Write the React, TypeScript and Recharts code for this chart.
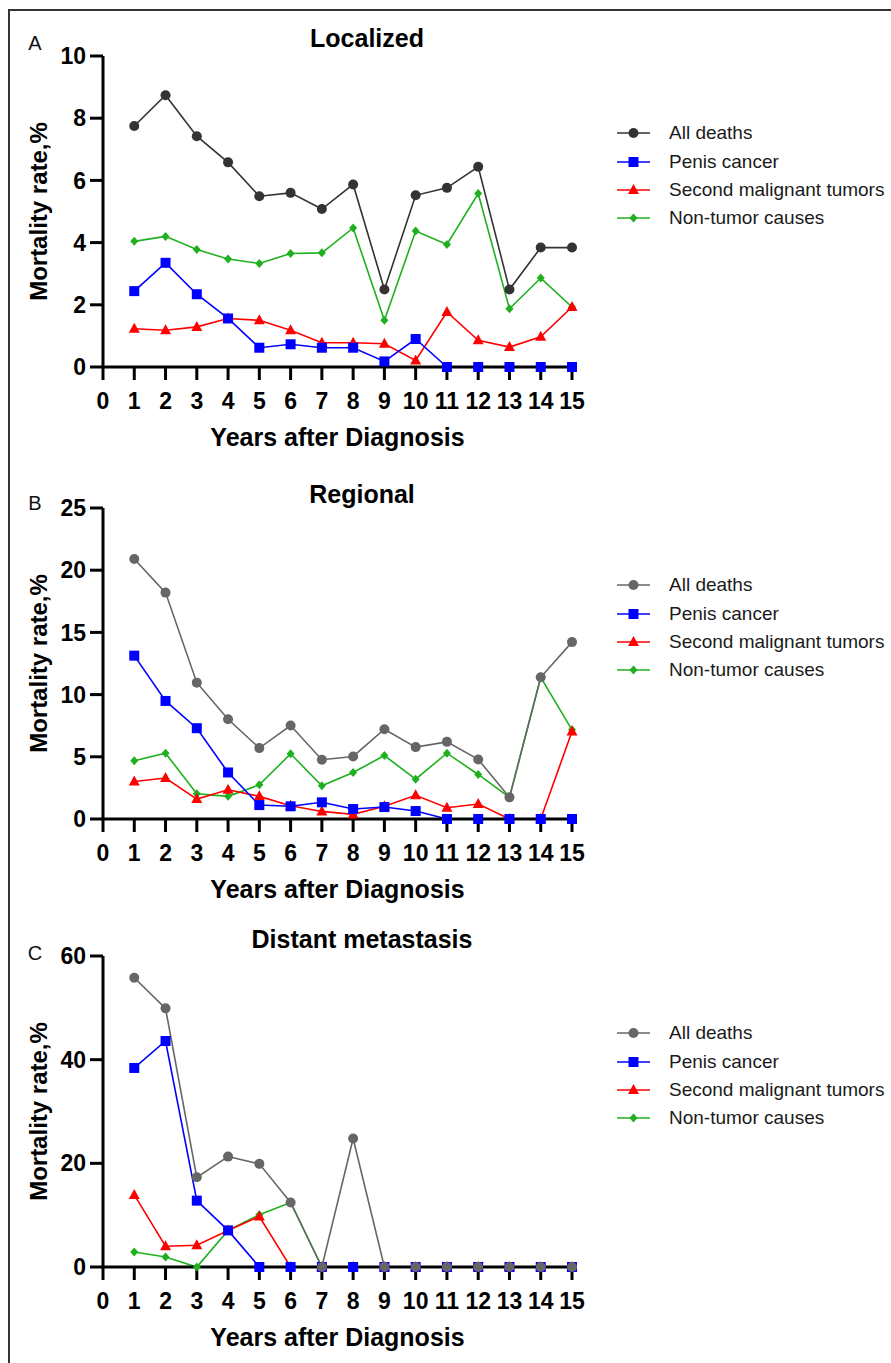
import React from 'react';
import { LineChart, Line, XAxis, YAxis, Legend, Label } from 'recharts';

// years after diagnosis (x) and axis ticks
const years = [1, 2, 3, 4, 5, 6, 7, 8, 9, 10, 11, 12, 13, 14, 15];
const xTicks = [0, 1, 2, 3, 4, 5, 6, 7, 8, 9, 10, 11, 12, 13, 14, 15];

// A - Localized
const localAll = [7.75, 8.74, 7.42, 6.58, 5.49, 5.6, 5.08, 5.87, 2.49, 5.52, 5.76, 6.44, 2.49, 3.84, 3.84];
const localPenis = [2.44, 3.35, 2.34, 1.56, 0.62, 0.73, 0.62, 0.62, 0.18, 0.9, 0, 0, 0, 0, 0];
const localSecond = [1.23, 1.18, 1.29, 1.56, 1.5, 1.18, 0.78, 0.78, 0.75, 0.21, 1.77, 0.86, 0.64, 0.97, 1.93];
const localNonTumor = [4.04, 4.2, 3.78, 3.47, 3.33, 3.65, 3.67, 4.47, 1.5, 4.37, 3.94, 5.58, 1.87, 2.86, 1.93];
const localTicks = [0, 2, 4, 6, 8, 10];

// B - Regional
const regionalAll = [20.9, 18.2, 10.96, 8.02, 5.7, 7.51, 4.76, 5.03, 7.22, 5.78, 6.2, 4.79, 1.74, 11.39, 14.22];
const regionalPenis = [13.13, 9.49, 7.3, 3.74, 1.12, 1.02, 1.34, 0.8, 0.96, 0.64, 0, 0, 0, 0, 0];
const regionalSecond = [3.02, 3.29, 1.6, 2.35, 1.82, 1.07, 0.61, 0.37, 1.02, 1.9, 0.91, 1.2, 0, 0, 7.03];
const regionalNonTumor = [4.68, 5.29, 2.03, 1.82, 2.75, 5.24, 2.67, 3.74, 5.1, 3.2, 5.29, 3.58, 1.74, 11.39, 7.17];
const regionalTicks = [0, 5, 10, 15, 20, 25];

// C - Distant metastasis
const distantAll = [55.8, 49.9, 17.3, 21.3, 19.9, 12.45, 0, 24.8, 0, 0, 0, 0, 0, 0, 0];
const distantPenis = [38.4, 43.6, 12.8, 7.06, 0, 0, 0, 0, 0, 0, 0, 0, 0, 0, 0];
const distantSecond = [13.9, 4.0, 4.2, 7.06, 9.75, 0, 0, 0, 0, 0, 0, 0, 0, 0, 0];
const distantNonTumor = [2.9, 1.93, 0, 7.06, 10.1, 12.45, 0, 0, 0, 0, 0, 0, 0, 0, 0];
const distantTicks = [0, 20, 40, 60];

const seriesNames = ['All deaths', 'Penis cancer', 'Second malignant tumors', 'Non-tumor causes'];

const FONT = '"Liberation Sans", Arial, Helvetica, sans-serif';
const BLUE = '#0000ff';
const RED = '#ff0000';
const GREEN = '#1fb01f';

type Shape = 'circle' | 'square' | 'triangle' | 'diamond';

const Marker = ({ shape, cx, cy, color }: { shape: Shape; cx: number; cy: number; color: string }) => {
  if (shape === 'circle') return <circle cx={cx} cy={cy} r={5} fill={color} />;
  if (shape === 'square') return <rect x={cx - 5} y={cy - 5} width={10} height={10} fill={color} />;
  if (shape === 'triangle')
    return <polygon points={`${cx},${cy - 6} ${cx + 5.5},${cy + 4} ${cx - 5.5},${cy + 4}`} fill={color} />;
  return <polygon points={`${cx},${cy - 4.5} ${cx + 4},${cy} ${cx},${cy + 4.5} ${cx - 4},${cy}`} fill={color} />;
};

const makeDot = (shape: Shape, color: string) => (props: any) => {
  const { cx, cy, index } = props;
  if (cx == null || cy == null) return <g key={`d-${index}`} />;
  return (
    <g key={`d-${index}`}>
      <Marker shape={shape} cx={cx} cy={cy} color={color} />
    </g>
  );
};

interface PanelProps {
  top: number;
  letter: string;
  letterY: number;
  title: string;
  titleX: number;
  titleY: number;
  yTicks: number[];
  allColor: string;
  all: number[];
  penis: number[];
  second: number[];
  nonTumor: number[];
}

const PLOT_TOP = 56;
const PLOT_H = 311;
const X_AXIS_H = 90;
const CHART_H = PLOT_TOP + PLOT_H + X_AXIS_H;

const Panel: React.FC<PanelProps> = (p) => {
  const data = years.map((year, i) => ({
    year,
    all: p.all[i],
    penis: p.penis[i],
    second: p.second[i],
    nonTumor: p.nonTumor[i],
  }));

  const legendItems: { name: string; shape: Shape; color: string }[] = [
    { name: seriesNames[0], shape: 'circle', color: p.allColor },
    { name: seriesNames[1], shape: 'square', color: BLUE },
    { name: seriesNames[2], shape: 'triangle', color: RED },
    { name: seriesNames[3], shape: 'diamond', color: GREEN },
  ];

  const renderLegend = () => (
    <div style={{ fontFamily: FONT, fontSize: 19, color: '#1a1a1a' }}>
      {legendItems.map((it) => (
        <div key={it.name} style={{ display: 'flex', alignItems: 'center', height: 28.2 }}>
          <svg width={40} height={20} style={{ display: 'block' }}>
            <line x1={3} y1={10} x2={36} y2={10} stroke={it.color} strokeWidth={1.6} />
            <Marker shape={it.shape} cx={19.5} cy={10} color={it.color} />
          </svg>
          <span style={{ marginLeft: 15, whiteSpace: 'nowrap' }}>{it.name}</span>
        </div>
      ))}
    </div>
  );

  const axisStyle = { stroke: '#000', strokeWidth: 3 };
  const tickStyle = { fill: '#000', fontSize: 23, fontWeight: 700, fontFamily: FONT };

  const yLabel = (props: any) => {
    const vb = props.viewBox || { x: 0, y: PLOT_TOP, height: PLOT_H };
    const cx = vb.x + 38;
    const cy = vb.y + vb.height / 2;
    return (
      <text
        x={cx}
        y={cy}
        transform={`rotate(-90 ${cx} ${cy})`}
        textAnchor="middle"
        dominantBaseline="central"
        fill="#000"
        fontSize={24}
        fontWeight={700}
        fontFamily={FONT}
      >
        Mortality rate,%
      </text>
    );
  };

  return (
    <div style={{ position: 'absolute', left: 0, top: p.top, width: 891, height: CHART_H }}>
      <div
        style={{
          position: 'absolute',
          left: 35,
          top: p.letterY,
          transform: 'translate(-50%, -50%)',
          fontFamily: FONT,
          fontSize: 20,
          color: '#111',
          zIndex: 2,
        }}
      >
        {p.letter}
      </div>
      <div
        style={{
          position: 'absolute',
          left: p.titleX,
          top: p.titleY,
          transform: 'translate(-50%, -50%)',
          fontFamily: FONT,
          fontSize: 25,
          fontWeight: 700,
          color: '#000',
          whiteSpace: 'nowrap',
          zIndex: 2,
        }}
      >
        {p.title}
      </div>
      <LineChart
        width={891}
        height={CHART_H}
        data={data}
        margin={{ top: PLOT_TOP, right: 891 - 572, bottom: 0, left: 0 }}
      >
        <XAxis
          dataKey="year"
          type="number"
          domain={[0, 15]}
          ticks={xTicks}
          interval={0}
          height={X_AXIS_H}
          axisLine={axisStyle}
          tickLine={axisStyle}
          tickSize={13}
          tickMargin={13}
          tick={tickStyle}
        >
          <Label
            value="Years after Diagnosis"
            position="insideBottom"
            offset={11}
            fill="#000"
            fontSize={25}
            fontWeight={700}
            fontFamily={FONT}
          />
        </XAxis>
        <YAxis
          type="number"
          domain={[0, p.yTicks[p.yTicks.length - 1]]}
          ticks={p.yTicks}
          interval={0}
          width={103}
          axisLine={axisStyle}
          tickLine={axisStyle}
          tickSize={13}
          tickMargin={4}
          tick={tickStyle}
          label={{ content: yLabel }}
        />
        <Legend
          layout="vertical"
          align="center"
          verticalAlign="middle"
          content={renderLegend}
          wrapperStyle={{ left: 614, top: 119.4, width: 277 }}
        />
        <Line
          dataKey="nonTumor"
          name={seriesNames[3]}
          stroke={GREEN}
          strokeWidth={1.6}
          dot={makeDot('diamond', GREEN)}
          isAnimationActive={false}
        />
        <Line
          dataKey="second"
          name={seriesNames[2]}
          stroke={RED}
          strokeWidth={1.6}
          dot={makeDot('triangle', RED)}
          isAnimationActive={false}
        />
        <Line
          dataKey="penis"
          name={seriesNames[1]}
          stroke={BLUE}
          strokeWidth={1.6}
          dot={makeDot('square', BLUE)}
          isAnimationActive={false}
        />
        <Line
          dataKey="all"
          name={seriesNames[0]}
          stroke={p.allColor}
          strokeWidth={1.6}
          dot={makeDot('circle', p.allColor)}
          isAnimationActive={false}
        />
      </LineChart>
    </div>
  );
}

export default function App() {
  return (
    <div style={{ position: 'relative', width: 891, height: 1363, background: '#fff', overflow: 'hidden' }}>
      <style>{'body{margin:0;}'}</style>
      <div
        style={{
          position: 'absolute',
          left: 8,
          top: 9,
          width: 883,
          height: 1354,
          borderTop: '2px solid #333',
          borderLeft: '2px solid #333',
        }}
      />
      <Panel
        top={0}
        letter="A"
        letterY={43}
        title="Localized"
        titleX={367}
        titleY={38}
        yTicks={localTicks}
        allColor="#333333"
        all={localAll}
        penis={localPenis}
        second={localSecond}
        nonTumor={localNonTumor}
      />
      <Panel
        top={452}
        letter="B"
        letterY={51}
        title="Regional"
        titleX={362}
        titleY={41.5}
        yTicks={regionalTicks}
        allColor="#666666"
        all={regionalAll}
        penis={regionalPenis}
        second={regionalSecond}
        nonTumor={regionalNonTumor}
      />
      <Panel
        top={900}
        letter="C"
        letterY={53}
        title="Distant metastasis"
        titleX={362}
        titleY={39}
        yTicks={distantTicks}
        allColor="#666666"
        all={distantAll}
        penis={distantPenis}
        second={distantSecond}
        nonTumor={distantNonTumor}
      />
    </div>
  );
}
